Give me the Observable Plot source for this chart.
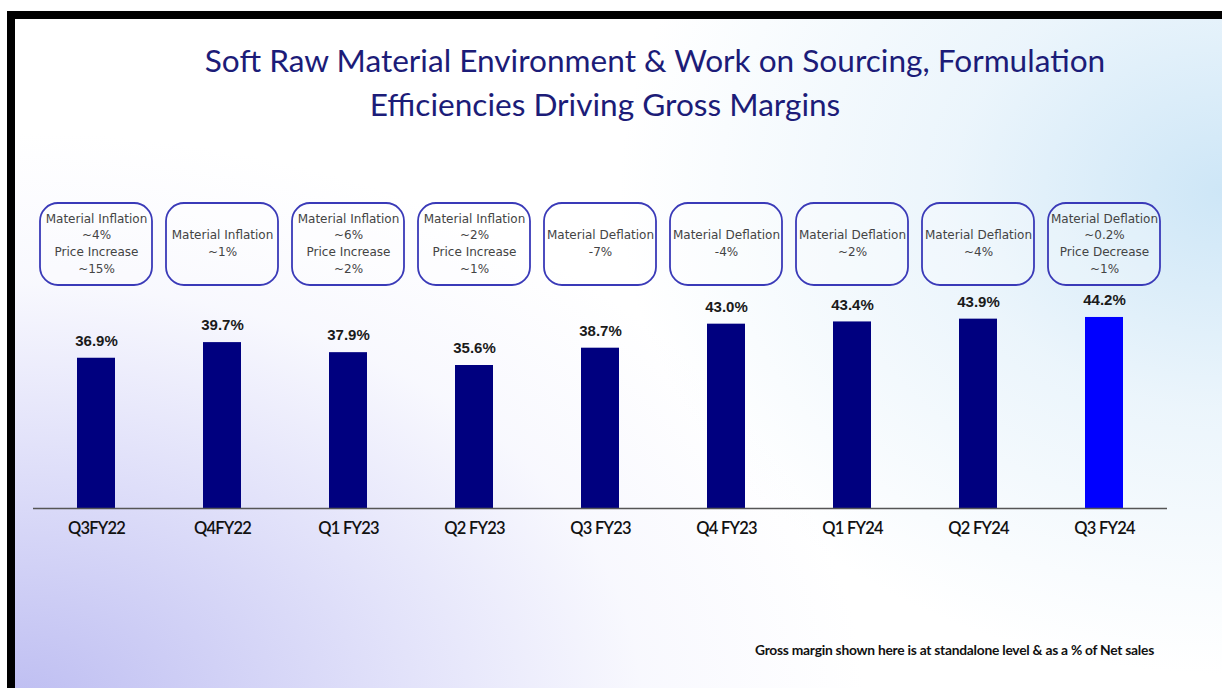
<!DOCTYPE html>
<html>
<head>
<meta charset="utf-8">
<script src="https://cdn.jsdelivr.net/npm/d3@7"></script>
<script src="https://cdn.jsdelivr.net/npm/@observablehq/plot@0.6"></script>
<style>
  html, body { margin: 0; padding: 0; }
  body { width: 1222px; height: 688px; overflow: hidden; position: relative; background: #fff; }
  #slide {
    position: absolute; left: 7px; top: 11px; width: 1207px; height: 690px;
    border-left: 8px solid #000; border-top: 8px solid #000; border-right: 4px solid #000;
    background:
      radial-gradient(ellipse 50% 70% at 100% 25%, rgba(165,210,240,0.55) 0%, rgba(190,222,244,0.3) 45%, rgba(255,255,255,0) 100%),
      radial-gradient(ellipse 80% 95% at 0% 100%, rgba(182,182,240,0.9) 0%, rgba(210,210,247,0.65) 40%, rgba(235,236,252,0.35) 65%, rgba(255,255,255,0) 88%),
      #ffffff;
  }
  .title {
    position: absolute; font-family: Lato, "Open Sans", sans-serif; font-size: 31.6px;
    color: #1c1c78; white-space: nowrap; transform: translateX(-50%); line-height: 1;
  }
  #boxes { position: absolute; left: 0; top: 200px; }
  #bars { position: absolute; left: 0; top: 280px; }
  #note {
    position: absolute; left: 755px; top: 641px; font-family: Lato, sans-serif; font-weight: 700;
    font-size: 13.8px; color: #111; white-space: nowrap; letter-spacing: -0.25px;
  }
</style>
</head>
<body>
<div id="slide"></div>
<div class="title" style="left:655px; top:45px;">Soft Raw Material Environment &amp; Work on Sourcing, Formulation</div>
<div class="title" style="left:605px; top:89px;">Efficiencies Driving Gross Margins</div>
<div id="boxes"></div>
<div id="bars"></div>
<div id="note">Gross margin shown here is at standalone level &amp; as a % of Net sales</div>
<script>
const quarters = ["Q3FY22", "Q4FY22", "Q1 FY23", "Q2 FY23", "Q3 FY23", "Q4 FY23", "Q1 FY24", "Q2 FY24", "Q3 FY24"];
const grossMargin = [36.9, 39.7, 37.9, 35.6, 38.7, 43.0, 43.4, 43.9, 44.2];
const notes = [
  "Material Inflation\n~4%\nPrice Increase\n~15%",
  "Material Inflation\n~1%",
  "Material Inflation\n~6%\nPrice Increase\n~2%",
  "Material Inflation\n~2%\nPrice Increase\n~1%",
  "Material Deflation\n-7%",
  "Material Deflation\n-4%",
  "Material Deflation\n~2%",
  "Material Deflation\n~4%",
  "Material Deflation\n~0.2%\nPrice Decrease\n~1%"
];
const highlightQuarter = "Q3 FY24";
const yAxisMin = 10;
const yAxisMax = 45;

const bars = quarters.map((q, i) => ({quarter: q, value: grossMargin[i]}));
const boxes = quarters.map((q, i) => ({quarter: q, note: notes[i]}));

const W = 1222, ML = 33, MR = 55;

const boxPlot = Plot.plot({
  width: W, height: 90,
  marginLeft: ML, marginRight: MR, marginTop: 3, marginBottom: 5,
  style: {background: "transparent", fontFamily: "'DejaVu Sans', sans-serif", color: "#444"},
  x: {domain: quarters, padding: 0, axis: null},
  marks: [
    Plot.cell(boxes, {x: "quarter", fill: "rgba(255,255,255,0.25)", stroke: "#3a3ab8", strokeWidth: 1.8, rx: 18, ry: 18, insetLeft: 7, insetRight: 7}),
    Plot.text(boxes, {x: "quarter", text: "note", frameAnchor: "middle", dy: -2, fontSize: 12, lineHeight: 1.4, fill: "#444", fontFamily: "'DejaVu Sans', sans-serif"})
  ]
});
document.getElementById("boxes").appendChild(boxPlot);

const barPlot = Plot.plot({
  width: W, height: 278,
  marginLeft: ML, marginRight: MR, marginTop: 32.5, marginBottom: 50,
  style: {background: "transparent", fontFamily: "Lato, sans-serif", fontSize: "16.5px", color: "#111"},
  x: {domain: quarters, padding: 0, tickSize: 0, tickPadding: 14, label: null},
  y: {domain: [yAxisMin, yAxisMax], axis: null},
  marks: [
    Plot.barY(bars, {x: "quarter", y1: () => yAxisMin, y2: "value", insetLeft: 44, insetRight: 44,
      fill: d => d.quarter === highlightQuarter ? "#0000ff" : "#00007f"}),
    Plot.ruleY([yAxisMin], {stroke: "#555", strokeWidth: 1.6}),
    Plot.text(bars, {x: "quarter", y: "value", text: d => d.value.toFixed(1) + "%", dy: -17,
      fontSize: 15, fontWeight: "bold", fontFamily: "'Liberation Sans', Arial, sans-serif", fill: "#1a1a1a"})
  ]
});
barPlot.querySelectorAll("g[aria-label='x-axis tick label'] text, g[aria-label='x-axis'] text").forEach(t => {
  t.setAttribute("font-weight", "600");
  t.setAttribute("letter-spacing", "-0.8");
});
document.getElementById("bars").appendChild(barPlot);
</script>
</body>
</html>
